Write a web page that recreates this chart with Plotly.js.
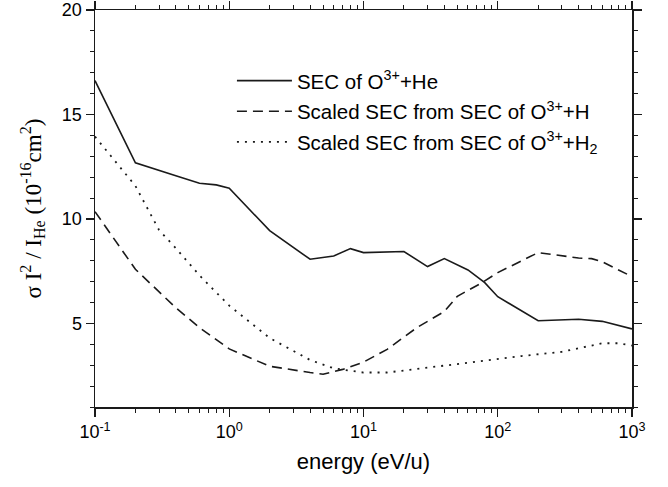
<!DOCTYPE html>
<html>
<head>
<meta charset="utf-8">
<script src="https://cdn.plot.ly/plotly-3.0.1.min.js"></script>
<style>html,body{margin:0;padding:0;background:#fff;}#chart{width:668px;height:487px;}</style>
</head>
<body>
<div id="chart"></div>
<script>
// Energy (eV/u) and scaled cross sections (10^-16 cm^2)
const heEnergy = [0.1, 0.2, 0.4, 0.6, 0.8, 1, 2, 4, 6, 8, 10, 20, 30, 40, 60, 80, 100, 200, 400, 600, 1000];
const heSec    = [16.62, 12.69, 12.07, 11.71, 11.63, 11.47, 9.44, 8.07, 8.23, 8.58, 8.39, 8.44, 7.72, 8.1, 7.56, 6.95, 6.28, 5.13, 5.2, 5.1, 4.74];

const hEnergy = [0.1, 0.2, 0.4, 0.6, 1, 2, 4, 5, 7, 10, 15, 25, 40, 50, 75, 100, 200, 300, 400, 500, 600, 1000];
const hSec    = [10.35, 7.59, 5.75, 4.8, 3.78, 2.95, 2.65, 2.57, 2.8, 3.15, 3.76, 4.8, 5.57, 6.3, 6.92, 7.43, 8.39, 8.23, 8.13, 8.1, 7.95, 7.24];

const h2Energy = [0.1, 0.2, 0.3, 0.4, 0.6, 1, 2, 4, 6, 10, 15, 30, 70, 150, 300, 600, 800, 1000];
const h2Sec    = [13.94, 11.58, 9.47, 8.6, 7.3, 5.85, 4.3, 3.25, 2.85, 2.65, 2.65, 2.9, 3.17, 3.44, 3.64, 4.05, 4.05, 3.94];

const xTickVals = [0.1, 1, 10, 100, 1000];
const xTickText = ['10<sup>-1</sup>', '10<sup>0</sup>', '10<sup>1</sup>', '10<sup>2</sup>', '10<sup>3</sup>'];

const seriesNames = [
  'SEC of O<sup>3+</sup>+He',
  'Scaled SEC from SEC of O<sup>3+</sup>+H',
  'Scaled SEC from SEC of O<sup>3+</sup>+H<sub>2</sub>'
];

const traces = [
  {x: heEnergy, y: heSec, name: seriesNames[0], mode: 'lines', legendgroup: 'a',
   line: {color: '#1a1a1a', width: 1.6}},
  {x: hEnergy, y: hSec, name: seriesNames[1], mode: 'lines', legendgroup: 'b',
   line: {color: '#1a1a1a', width: 1.6, dash: '10px,6px'}},
  {x: h2Energy, y: h2Sec, name: seriesNames[2], mode: 'lines', legendgroup: 'c',
   line: {color: '#1a1a1a', width: 1.8, dash: '2px,6px'}}
];

const axisCommon = {
  showline: true, linecolor: '#1a1a1a', linewidth: 1.5, mirror: 'allticks',
  ticks: 'outside', ticklen: 8, tickwidth: 1.3, tickcolor: '#1a1a1a',
  showgrid: false, zeroline: false,
  tickfont: {family: 'Liberation Sans, Arial, sans-serif', size: 18, color: '#000'}
};

const layout = {
  width: 668, height: 487,
  margin: {l: 95, r: 36, t: 10, b: 80},
  paper_bgcolor: '#fff', plot_bgcolor: '#fff',
  showlegend: true,
  legend: {x: 0.255, y: 0.872, xanchor: 'left', yanchor: 'top', itemwidth: 55,
           bgcolor: 'rgba(0,0,0,0)', borderwidth: 0, tracegroupgap: 1,
           font: {family: 'Liberation Sans, Arial, sans-serif', size: 20.5, color: '#000'}},
  xaxis: Object.assign({}, axisCommon, {
    type: 'log', range: [-1, 3], tickvals: xTickVals, ticktext: xTickText,
    minor: {ticks: 'outside', ticklen: 4, tickwidth: 1, tickcolor: '#1a1a1a', dtick: 'D1', showgrid: false},
    title: {text: 'energy (eV/u)', standoff: 12,
            font: {family: 'Liberation Sans, Arial, sans-serif', size: 22, color: '#000'}}
  }),
  yaxis: Object.assign({}, axisCommon, {
    range: [1, 20], tickvals: [5, 10, 15, 20],
    minor: {ticks: 'outside', ticklen: 4, tickwidth: 1, tickcolor: '#1a1a1a', dtick: 1, showgrid: false},
    title: {text: 'σ I<sup>2</sup> / I<sub>He</sub> (10<sup>-16</sup>cm<sup>2</sup>)', standoff: 14,
            font: {family: 'Liberation Serif, Times New Roman, serif', size: 23, color: '#000'}}
  })
};

Plotly.newPlot('chart', traces, layout, {displayModeBar: false, staticPlot: true});
</script>
</body>
</html>
